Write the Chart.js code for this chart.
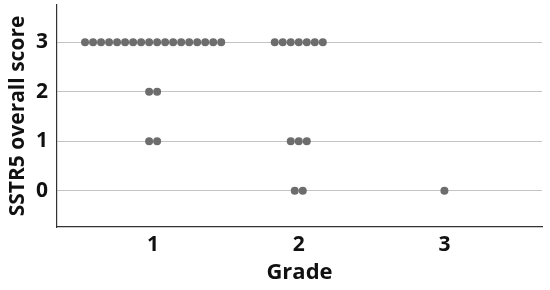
<!DOCTYPE html>
<html>
<head>
<meta charset="utf-8">
<script src="https://cdn.jsdelivr.net/npm/chart.js@4"></script>
<style>
    html, body { margin: 0; padding: 0; background: #fff; }
    #wrap { width: 550px; height: 290px; }
</style>
</head>
<body>
<div id="wrap"><canvas id="dotChart"></canvas></div>
<script>
// grade categories on the x axis
const grades = [1, 2, 3];
// score ticks on the y axis
const scores = [0, 1, 2, 3];
// number of cases at score 0,1,2,3 for each grade
const grade1Counts = [0, 2, 2, 18];
const grade2Counts = [2, 3, 0, 7];
const grade3Counts = [1, 0, 0, 0];

const countsByGrade = [grade1Counts, grade2Counts, grade3Counts];
const dotStep = 0.055; // horizontal spacing between stacked dots (x units)

// spread tied cases side by side around their grade, like a dot plot
const points = [];
countsByGrade.forEach((counts, g) => {
    counts.forEach((n, s) => {
        for (let i = 0; i < n; i++) {
            points.push({ x: grades[g] + (i - (n - 1) / 2) * dotStep, y: scores[s] });
        }
    });
});

const fontFamily = "'Open Sans', 'DejaVu Sans', sans-serif";

new Chart(document.getElementById('dotChart'), {
    type: 'scatter',
    data: {
        datasets: [{
            data: points,
            backgroundColor: '#6d6d6d',
            borderWidth: 0,
            pointRadius: 4,
            pointHoverRadius: 4
        }]
    },
    options: {
        responsive: true,
        maintainAspectRatio: false,
        animation: false,
        layout: { padding: { top: 5, right: 8, left: 0, bottom: 0 } },
        plugins: {
            legend: { display: false },
            tooltip: { enabled: false }
        },
        scales: {
            x: {
                type: 'linear',
                min: 0.34,
                max: 3.67,
                afterBuildTicks: axis => { axis.ticks = grades.map(v => ({ value: v })); },
                afterFit: axis => { axis.height = 63; axis.paddingLeft = 0; axis.paddingRight = 0; },
                grid: { display: false, drawTicks: false },
                border: { display: true, color: '#333', width: 1.2 },
                ticks: {
                    padding: 5,
                    color: '#111',
                    font: { family: fontFamily, size: 21, weight: 'bold' }
                },
                title: {
                    display: true,
                    text: 'Grade',
                    color: '#111',
                    padding: { top: 0, bottom: 4 },
                    font: { family: fontFamily, size: 22, weight: 'bold' }
                }
            },
            y: {
                type: 'linear',
                min: -0.73,
                max: 3.75,
                afterBuildTicks: axis => { axis.ticks = scores.map(v => ({ value: v })); },
                afterFit: axis => { axis.width = 57; axis.paddingTop = 0; axis.paddingBottom = 0; },
                grid: { color: '#c4c4c4', lineWidth: 1, drawTicks: false },
                border: { display: true, color: '#333', width: 1.2 },
                ticks: {
                    padding: 9,
                    color: '#111',
                    font: { family: fontFamily, size: 21, weight: 'bold' }
                },
                title: {
                    display: true,
                    text: 'SSTR5 overall score',
                    color: '#111',
                    padding: { top: 5, bottom: 0 },
                    font: { family: fontFamily, size: 21, weight: 'bold' }
                }
            }
        }
    }
});
</script>
</body>
</html>
